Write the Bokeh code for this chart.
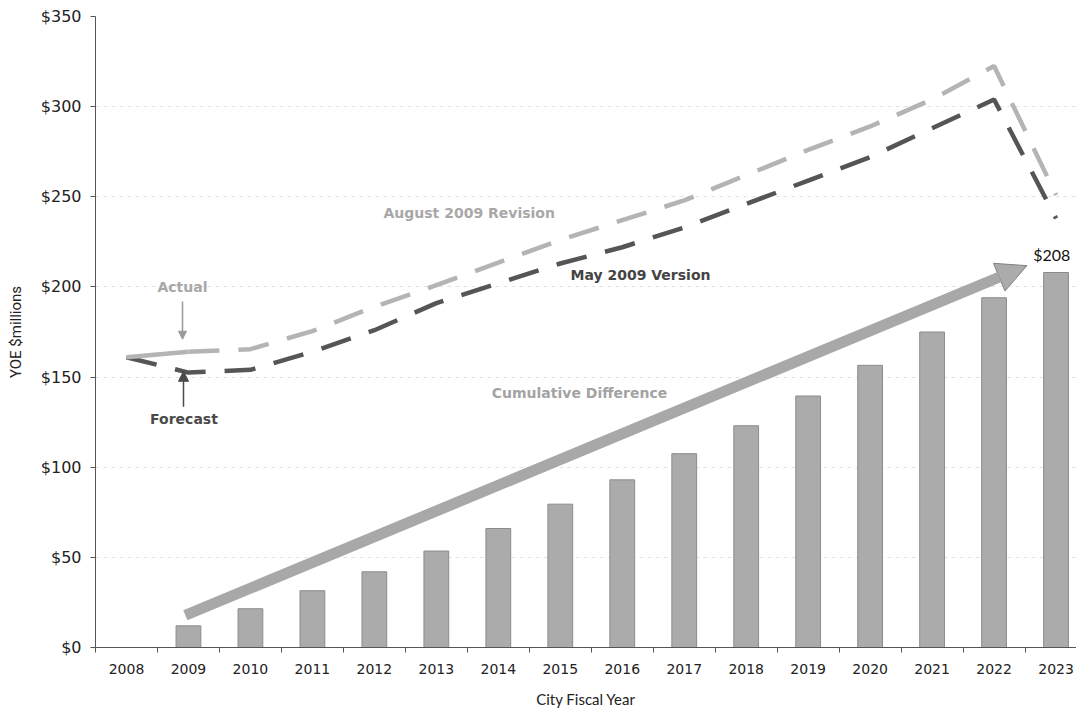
from bokeh.plotting import figure
from bokeh.models import (Range1d, FixedTicker, NumeralTickFormatter, Arrow,
                          NormalHead, Label)
from bokeh.embed import file_html
from bokeh.resources import INLINE

# ---- data ----
years = [2008, 2009, 2010, 2011, 2012, 2013, 2014, 2015, 2016, 2017,
         2018, 2019, 2020, 2021, 2022, 2023]
cumulative_difference = [0, 12, 21.5, 31.5, 42, 53.5, 66, 79.5, 93, 107.5,
                         123, 139.5, 156.5, 175, 194, 208]
may_2009_version = [161, 152.5, 154, 164, 176, 191, 202, 213, 222, 233,
                    246, 259, 272, 288, 304, 238]
august_2009_revision = [161, 164, 165.5, 175.5, 189, 201, 213.5, 226, 237, 248,
                        262, 276, 289, 304, 322.5, 251]
y_ticks = [0, 50, 100, 150, 200, 250, 300, 350]

idx = list(range(len(years)))

p = figure(width=1076, height=710, output_backend="svg", toolbar_location=None,
           x_range=Range1d(-0.5, 15.33), y_range=Range1d(0, 350),
           min_border_left=95, min_border_right=0, min_border_top=16,
           min_border_bottom=60)
p.outline_line_color = None
p.background_fill_color = "white"
p.border_fill_color = "white"

# grid
p.xgrid.grid_line_color = None
p.ygrid.grid_line_color = "#e2e2e2"
p.ygrid.grid_line_dash = "4 4"
p.ygrid.grid_line_width = 1

# axes
p.yaxis.ticker = FixedTicker(ticks=y_ticks)
p.yaxis.formatter = NumeralTickFormatter(format="$0")
p.yaxis.major_tick_in = 0
p.yaxis.major_tick_out = 5
p.yaxis.minor_tick_line_color = None
p.yaxis.axis_line_color = "#555555"
p.yaxis.major_tick_line_color = "#555555"
p.yaxis.major_label_text_font = "DejaVu Sans"
p.yaxis.major_label_text_font_size = "16px"
p.yaxis.major_label_text_color = "#222222"
p.yaxis.major_label_standoff = 9
p.yaxis.axis_label = "YOE $millions"
p.yaxis.axis_label_text_font = "Roboto"
p.yaxis.axis_label_text_font_size = "15px"
p.yaxis.axis_label_text_font_style = "normal"
p.yaxis.axis_label_text_color = "#222222"
p.yaxis.axis_label_standoff = 13

p.xaxis.ticker = FixedTicker(ticks=idx, minor_ticks=[i - 0.5 for i in range(len(years) + 1)])
p.xaxis.major_label_overrides = {i: str(y) for i, y in zip(idx, years)}
p.xaxis.major_tick_in = 0
p.xaxis.major_tick_out = 0
p.xaxis.minor_tick_in = 0
p.xaxis.minor_tick_out = 5
p.xaxis.minor_tick_line_color = "#555555"
p.xaxis.axis_line_color = "#555555"
p.xaxis.major_label_text_font = "DejaVu Sans"
p.xaxis.major_label_text_font_size = "14px"
p.xaxis.major_label_text_color = "#222222"
p.xaxis.major_label_standoff = 11
p.xaxis.axis_label = "City Fiscal Year"
p.xaxis.axis_label_text_font = "Lato"
p.xaxis.axis_label_text_font_size = "15px"
p.xaxis.axis_label_text_font_style = "normal"
p.xaxis.axis_label_text_color = "#222222"
p.xaxis.axis_label_standoff = 13

# bars
p.vbar(x=idx, top=cumulative_difference, width=0.4, fill_color="#ababab",
       line_color="#8c8c8c", line_width=1)

# big arrow
p.add_layout(Arrow(x_start=0.95, y_start=17.9, x_end=14.53, y_end=211.8,
                   line_color="#a8a8a8", line_width=11,
                   end=NormalHead(size=30, fill_color="#ababab",
                                  line_color="#808080", line_width=1)))

# lines
p.line(x=idx, y=may_2009_version, line_color="#555555", line_width=4.5,
       line_dash="31 19")
p.line(x=idx[:2], y=august_2009_revision[:2], line_color="#b4b4b4", line_width=4.5)
p.line(x=idx[1:], y=august_2009_revision[1:], line_color="#b4b4b4", line_width=4.5,
       line_dash="31 19")

# small arrows
p.add_layout(Arrow(x_start=0.904, y_start=191.9, x_end=0.904, y_end=171,
                   line_color="#9a9a9a", line_width=1.5,
                   end=NormalHead(size=8, fill_color="#9a9a9a", line_color="#9a9a9a")))
p.add_layout(Arrow(x_start=0.92, y_start=133.5, x_end=0.92, y_end=153.2,
                   line_color="#4a4a4a", line_width=1.5,
                   end=NormalHead(size=10, fill_color="#4a4a4a", line_color="#4a4a4a")))

# annotations
def lab(x, y, text, color, size="14px", align="left", font="DejaVu Sans",
        style="bold"):
    p.add_layout(Label(x=x, y=y, text=text, text_color=color,
                       text_font=font, text_font_size=size,
                       text_font_style=style, text_align=align,
                       text_baseline="middle"))

lab(4.147, 241.0, "August 2009 Revision", "#a8a8a8")
lab(7.165, 206.8, "May 2009 Version", "#444444")
lab(0.904, 200.2, "Actual", "#a8a8a8", align="center")
lab(0.928, 126.7, "Forecast", "#4a4a4a", align="center")
lab(7.31, 141.1, "Cumulative Difference", "#a3a3a3", align="center")
lab(14.93, 217.9, "$208", "#111111", size="16px", align="center", font="Lato",
    style="normal")

open("out.html", "w").write(file_html(p, INLINE))
